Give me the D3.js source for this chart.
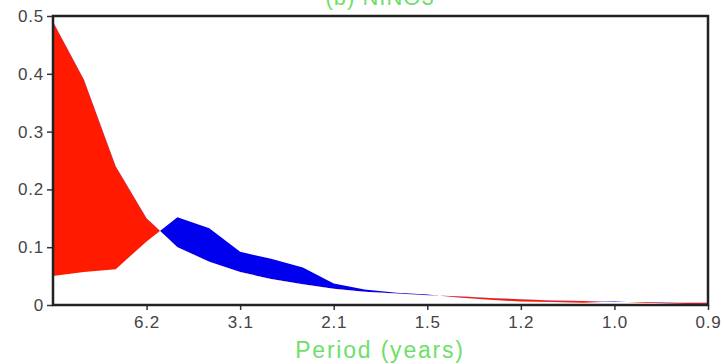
<!DOCTYPE html>
<html>
<head>
<meta charset="utf-8">
<script src="https://cdn.jsdelivr.net/npm/d3@7"></script>
<style>
  body { margin: 0; background: #fff; }
  svg { display: block; font-family: "Liberation Sans", Arial, sans-serif; }
  .tick text { fill: #444; font-size: 17px; letter-spacing: 0.8px; }
</style>
</head>
<body>
<svg></svg>
<script>
// frequency position, in units of the first tick (1/6.2 cycles per year)
const freq = [0, 0.33, 0.67, 1, 1.33, 1.67, 2, 2.33, 2.67, 3, 3.33, 3.67, 4,
              4.33, 4.67, 5, 5.33, 5.67, 6, 6.33, 6.67, 7]

// the two spectra
const specA = [0.49, 0.39, 0.24, 0.15, 0.10, 0.075, 0.057, 0.045, 0.036, 0.028, 0.023,
               0.020, 0.017, 0.015, 0.012, 0.010, 0.008, 0.007, 0.005, 0.005, 0.004, 0.004]
const specB = [0.05, 0.057, 0.062, 0.11, 0.152, 0.133, 0.092, 0.08, 0.065, 0.037, 0.027,
               0.021, 0.018, 0.013, 0.009, 0.006, 0.005, 0.004, 0.006, 0.004, 0.002, 0.001]

const tickPos = [1, 2, 3, 4, 5, 6, 7]
const tickLabels = ["6.2", "3.1", "2.1", "1.5", "1.2", "1.0", "0.9"]
const yTicks = [0, 0.1, 0.2, 0.3, 0.4, 0.5]

const width = 724
const height = 364
const margin = { top: 16, right: 16, bottom: 59, left: 53 }

const svg = d3.select("svg")
    .attr("width", width)
    .attr("height", height)

const x = d3.scaleLinear()
    .domain([0, 7])
    .range([margin.left, width - margin.right])

const y = d3.scaleLinear()
    .domain([0, 0.5])
    .range([height - margin.bottom, margin.top])

const data = freq.map((f, i) => ({ f: f, a: specA[i], b: specB[i] }))

// clip regions: below curve A -> red, above curve A -> blue
const defs = svg.append("defs")

defs.append("clipPath")
    .attr("id", "below-a")
    .append("path")
    .attr("d", d3.area().x(d => x(d.f)).y0(y(0) + 5).y1(d => y(d.a))(data))

defs.append("clipPath")
    .attr("id", "above-a")
    .append("path")
    .attr("d", d3.area().x(d => x(d.f)).y0(0).y1(d => y(d.a))(data))

const band = d3.area()
    .x(d => x(d.f))
    .y0(d => y(d.a))
    .y1(d => y(d.b))

svg.append("path")
    .attr("d", band(data))
    .attr("fill", "#ff1a00")
    .attr("clip-path", "url(#below-a)")

svg.append("path")
    .attr("d", band(data))
    .attr("fill", "#0000ee")
    .attr("clip-path", "url(#above-a)")

// axes
svg.append("g")
    .attr("transform", `translate(0, ${y(0)})`)
    .call(d3.axisBottom(x)
        .tickValues(tickPos)
        .tickFormat((d, i) => tickLabels[i])
        .tickSize(5)
        .tickPadding(6))

svg.append("g")
    .attr("transform", `translate(${margin.left}, 0)`)
    .call(d3.axisLeft(y)
        .tickValues(yTicks)
        .tickFormat(d => d === 0 ? "0" : d3.format(".1f")(d))
        .tickSize(6)
        .tickPadding(3))

svg.selectAll(".domain").remove()
svg.selectAll(".tick line").attr("stroke", "#333").attr("stroke-width", 1.5)

// frame
svg.append("rect")
    .attr("x", margin.left)
    .attr("y", margin.top)
    .attr("width", width - margin.left - margin.right)
    .attr("height", height - margin.top - margin.bottom)
    .attr("fill", "none")
    .attr("stroke", "#222")
    .attr("stroke-width", 2.5)

// title, mostly cut off by the top edge as in the original
svg.append("text")
    .attr("x", 380)
    .attr("y", 5)
    .attr("text-anchor", "middle")
    .attr("fill", "#6ee06a")
    .style("font-size", "22px")
    .style("letter-spacing", "1px")
    .text("(b) NINO3")

svg.append("text")
    .attr("x", 380)
    .attr("y", 358)
    .attr("text-anchor", "middle")
    .attr("fill", "#6ee06a")
    .style("font-size", "23px")
    .style("letter-spacing", "1.8px")
    .text("Period (years)")
</script>
</body>
</html>
